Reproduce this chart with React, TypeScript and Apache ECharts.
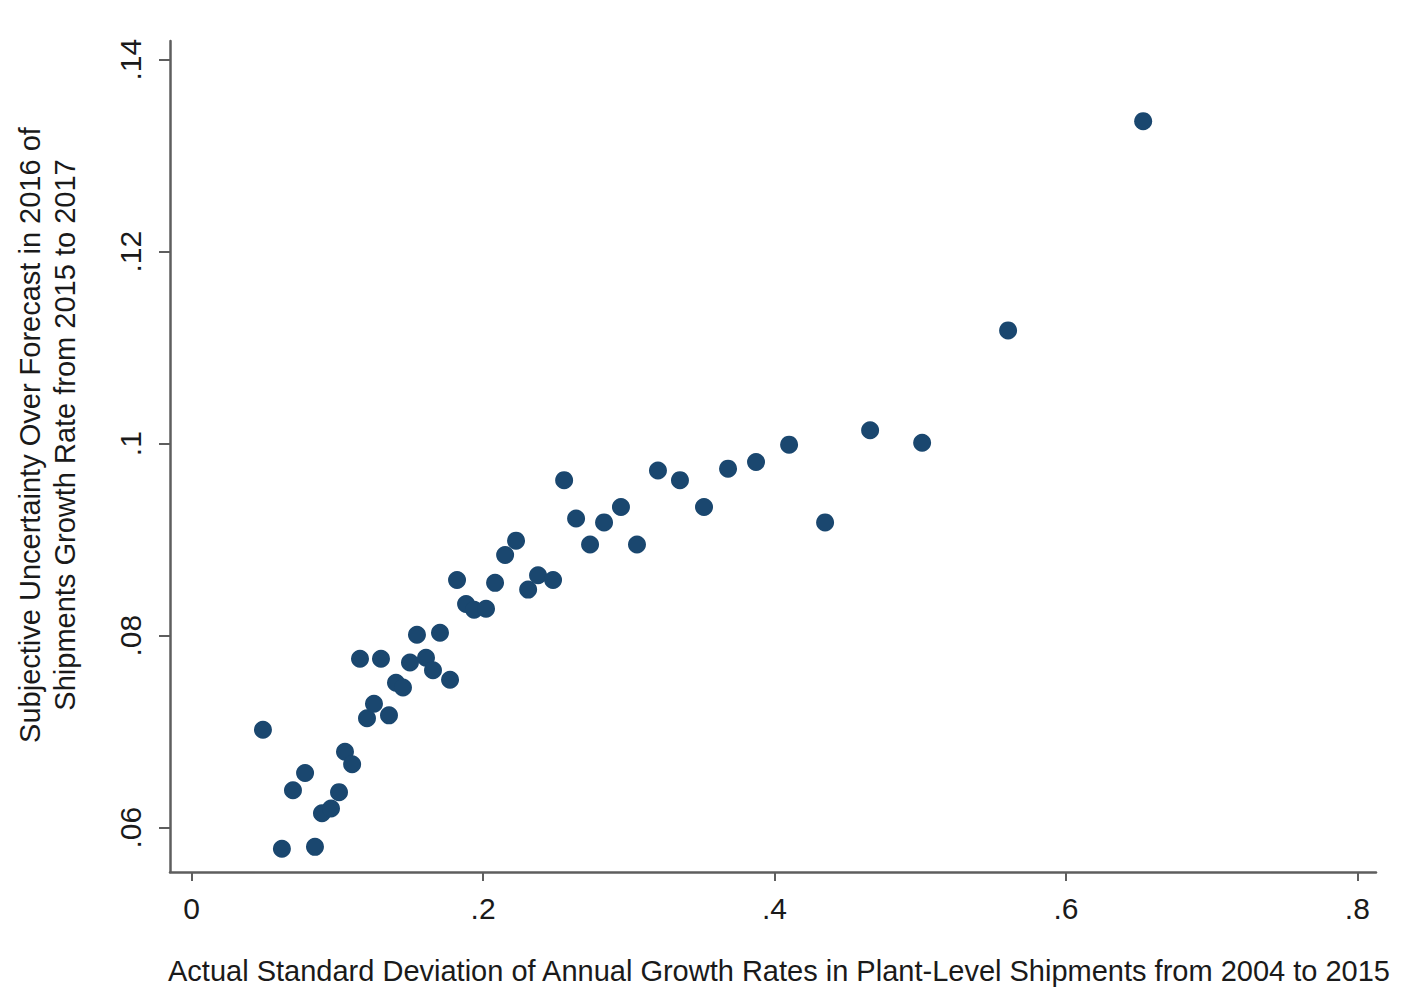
import React, { useEffect, useRef } from "react";
import * as echarts from "echarts";

const xValues: number[] = [
  0.0489, 0.0619, 0.0695, 0.0778, 0.0846, 0.0894, 0.0956, 0.1011, 0.1052, 0.1101,
  0.1155, 0.1203, 0.1251, 0.1299, 0.1354, 0.1402, 0.145, 0.1498, 0.1546, 0.1608,
  0.1656, 0.1704, 0.1773, 0.1821, 0.1883, 0.1938, 0.202, 0.2082, 0.2151, 0.2226,
  0.2309, 0.2377, 0.248, 0.2556, 0.2638, 0.2734, 0.283, 0.2946, 0.3056, 0.32,
  0.3351, 0.3516, 0.3681, 0.3873, 0.41, 0.4347, 0.4656, 0.5013, 0.5603, 0.653,
];
const yValues: number[] = [
  0.0702, 0.0578, 0.0639, 0.0657, 0.058, 0.0615, 0.062, 0.0637, 0.0679, 0.0666,
  0.0776, 0.0714, 0.0729, 0.0776, 0.0717, 0.0751, 0.0746, 0.0772, 0.0801, 0.0777,
  0.0764, 0.0803, 0.0754, 0.0858, 0.0833, 0.0827, 0.0828, 0.0855, 0.0884, 0.0899,
  0.0848, 0.0863, 0.0858, 0.0962, 0.0922, 0.0895, 0.0918, 0.0934, 0.0895, 0.0972,
  0.0962, 0.0934, 0.0974, 0.0981, 0.0999, 0.0918, 0.1014, 0.1001, 0.1118, 0.1336,
];
const xTicks: number[] = [0, 0.2, 0.4, 0.6, 0.8];
const yTicks: number[] = [0.06, 0.08, 0.1, 0.12, 0.14];
const xTitle =
  "Actual Standard Deviation of Annual Growth Rates in Plant-Level Shipments from 2004 to 2015";
const yTitleLines: string[] = [
  "Subjective Uncertainty Over Forecast in 2016 of",
  "Shipments Growth Rate from 2015 to 2017",
];

const fmt = (v: number): string => {
  const s = String(Math.round(v * 1000) / 1000);
  return s.startsWith("0.") ? s.slice(1) : s;
};

const FONT = "'Liberation Sans', Arial, sans-serif";
const AXIS_COLOR = "#5e5e5e";
const TEXT_COLOR = "#1a1a1a";
const DOT_COLOR = "#1a476f";

export default function App() {
  const ref = useRef<HTMLDivElement>(null);
  useEffect(() => {
    if (!ref.current) return;
    const chart = echarts.init(ref.current, undefined, { renderer: "svg" });
    const data = xValues.map((x, i) => [x, yValues[i]]);
    chart.setOption({
      animation: false,
      backgroundColor: "#ffffff",
      grid: { left: 170, right: 28, top: 41, bottom: 116, containLabel: false },
      xAxis: {
        type: "value",
        min: -0.0149,
        max: 0.8128,
        splitLine: { show: false },
        axisLine: { show: true, onZero: false, lineStyle: { color: AXIS_COLOR, width: 2.5 } },
        axisTick: { show: true, length: 9, customValues: xTicks, lineStyle: { color: AXIS_COLOR, width: 2 } },
        axisLabel: {
          customValues: xTicks,
          formatter: (v: number) => fmt(v),
          fontSize: 30,
          fontFamily: FONT,
          color: TEXT_COLOR,
          margin: 21,
        },
      },
      yAxis: {
        type: "value",
        min: 0.05538,
        max: 0.14195,
        splitLine: { show: false },
        axisLine: { show: true, onZero: false, lineStyle: { color: AXIS_COLOR, width: 2.5 } },
        axisTick: { show: true, length: 11, customValues: yTicks, lineStyle: { color: AXIS_COLOR, width: 2 } },
        axisLabel: {
          customValues: yTicks,
          formatter: (v: number) => fmt(v),
          rotate: 90,
          fontSize: 30,
          fontFamily: FONT,
          color: TEXT_COLOR,
          margin: 25,
        },
      },
      graphic: [
        {
          type: "text",
          x: 779,
          y: 971,
          style: {
            text: xTitle,
            fontSize: 29,
            fontFamily: FONT,
            fill: TEXT_COLOR,
            textAlign: "center",
            textVerticalAlign: "middle",
          },
        },
        {
          type: "text",
          x: 30,
          y: 435,
          rotation: Math.PI / 2,
          style: {
            text: yTitleLines[0],
            fontSize: 29,
            fontFamily: FONT,
            fill: TEXT_COLOR,
            textAlign: "center",
            textVerticalAlign: "middle",
          },
        },
        {
          type: "text",
          x: 65,
          y: 435,
          rotation: Math.PI / 2,
          style: {
            text: yTitleLines[1],
            fontSize: 29,
            fontFamily: FONT,
            fill: TEXT_COLOR,
            textAlign: "center",
            textVerticalAlign: "middle",
          },
        },
      ],
      series: [
        {
          type: "scatter",
          data,
          symbol: "circle",
          symbolSize: 18,
          itemStyle: { color: DOT_COLOR, opacity: 1 },
        },
      ],
    });
    return () => chart.dispose();
  }, []);
  return (
    <div
      ref={ref}
      style={{ position: "fixed", left: 0, top: 0, width: 1404, height: 988, background: "#fff" }}
    />
  );
}
